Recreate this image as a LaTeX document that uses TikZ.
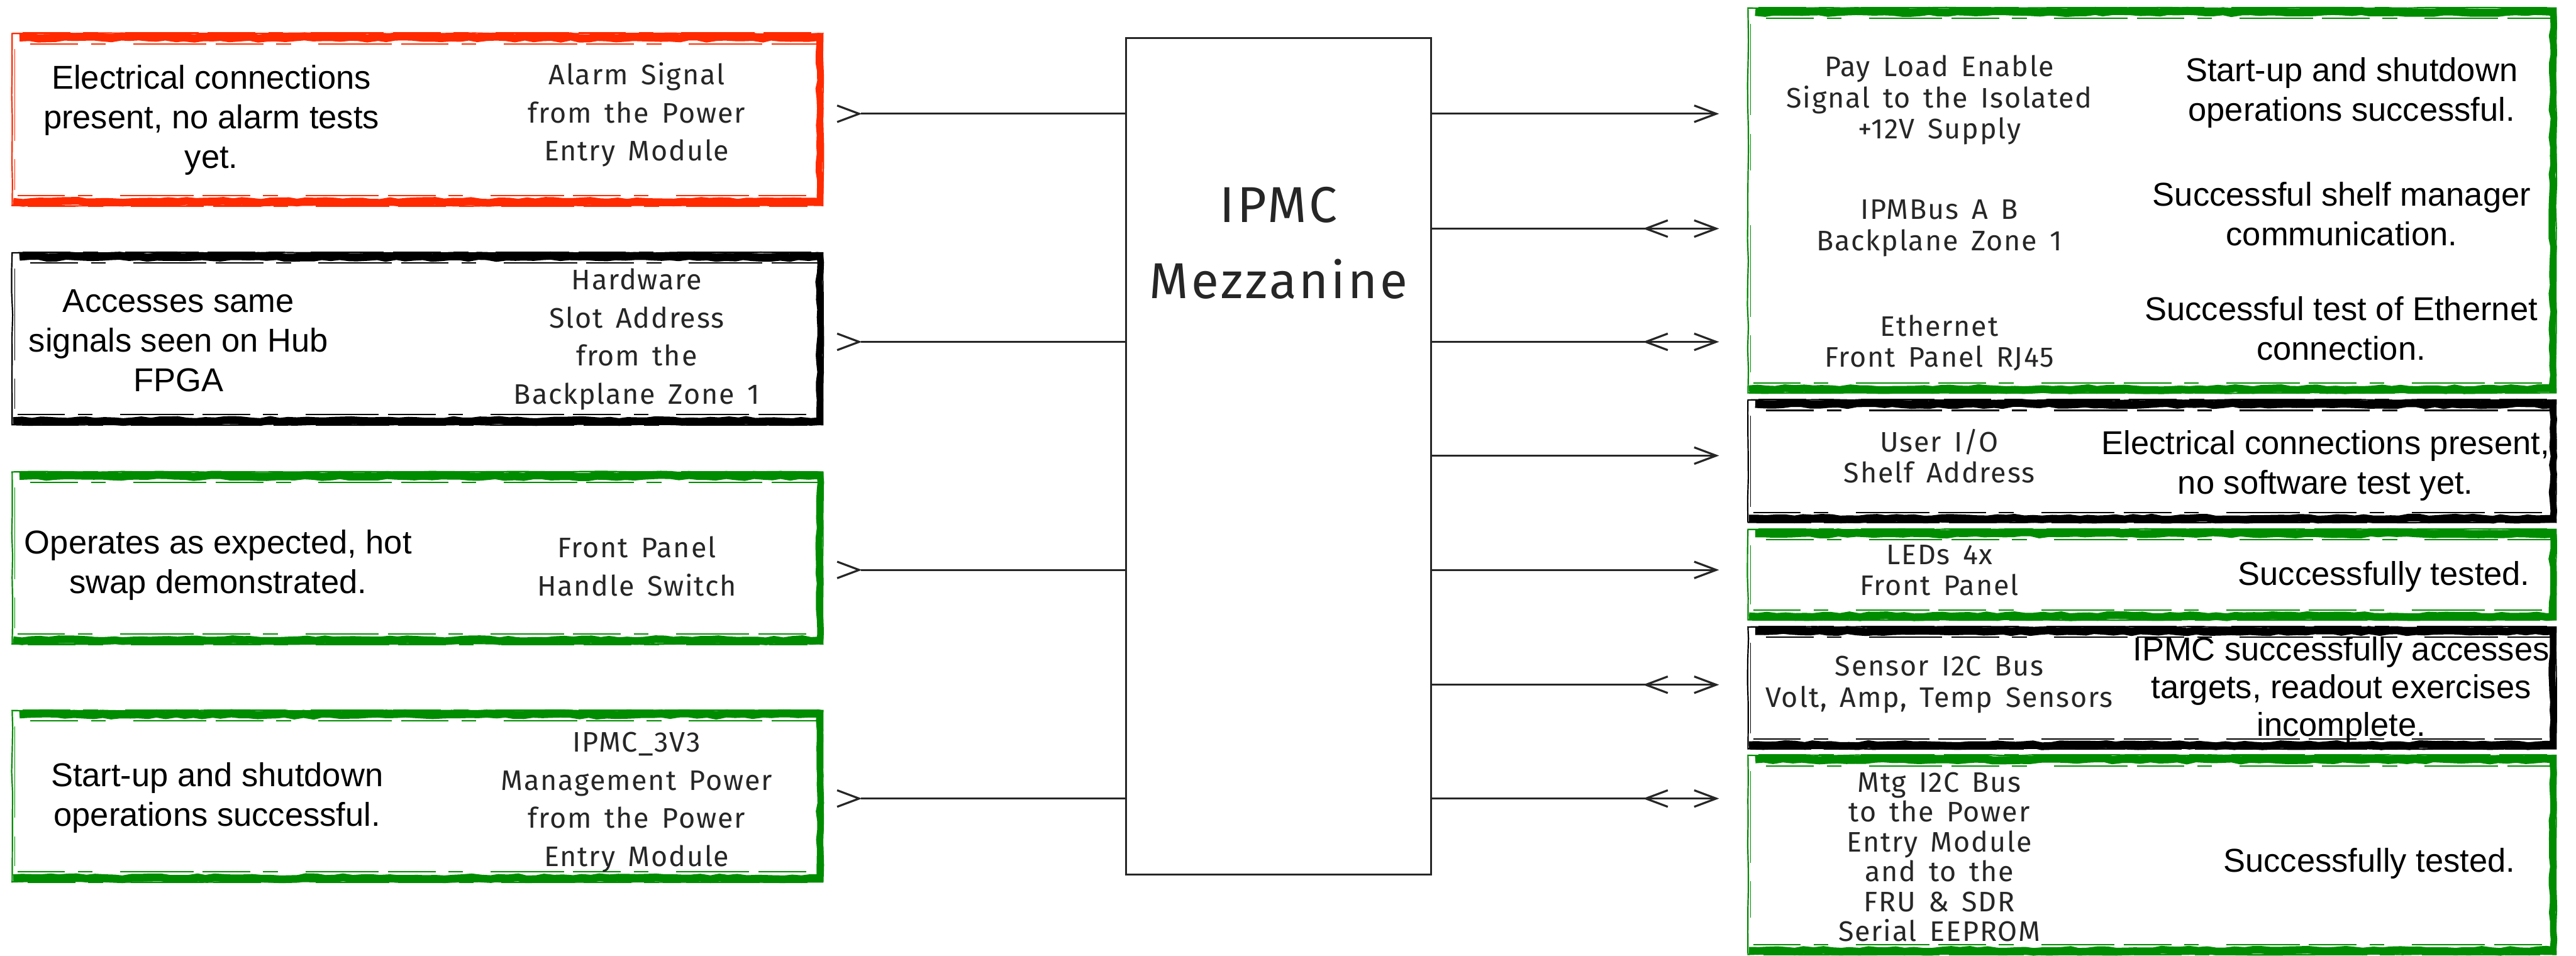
\documentclass[tikz,border=0pt]{standalone}
\usepackage{fontspec}
\setmainfont{Liberation Sans}
\newfontfamily\notefont{Liberation Sans}
\newfontfamily\cadfont{Fira Sans}[LetterSpace=4,WordSpace=1.5]
\newfontfamily\titlefont{Fira Sans}[LetterSpace=5]
\usetikzlibrary{arrows.meta,decorations.pathmorphing,decorations.markings}

\definecolor{okgreen}{RGB}{0,140,0}
\definecolor{warnred}{RGB}{255,42,0}

\tikzset{
  >={Straight Barb[length=12pt,width=9pt]},
  wire/.style={line width=1.1pt,draw=black!85},
  outwire/.style={wire,->},
  inwire/.style={wire,postaction={decorate,decoration={markings,
      mark=at position 0.5pt with {\arrow{>}}}}},
  bidir/.style={wire,->,postaction={decorate,decoration={markings,
      mark=at position -1.46cm with {\arrowreversed{>}}}}},
  panel/.style={draw=none,inner sep=0pt,minimum width=#1},
  panel/.default=15.52cm,
  note/.style={font=\notefont\fontsize{18}{21.6}\selectfont,align=center,inner sep=0pt},
  cadtext/.style={font=\cadfont\fontsize{15.4}{20.8}\selectfont,align=center,inner sep=0pt,text=black!85},
  cadtight/.style={cadtext,font=\cadfont\fontsize{15.4}{17}\selectfont},
  rough/.style={decorate,decoration={random steps,segment length=12pt,amplitude=0.3pt}},
  brushstroke/.style={decorate,decoration={random steps,segment length=5pt,amplitude=0.6pt}},
  fringe/.style={line width=0.7pt,dash pattern=on 26pt off 7pt on 8pt off 15pt on 40pt off 5pt}
}

% hand-brushed outline around a named panel node
\newcommand\sketchframe[2]{%
  \draw[#2,line width=0.75pt,rough]
    (#1.north west) -- (#1.north east) -- (#1.south east) -- (#1.south west) -- cycle;
  \draw[#2,line width=4.4pt,brushstroke]
    ([shift={(0.14,0.075)}]#1.north west) -- ([shift={(0,0.075)}]#1.north east);
  \draw[#2,line width=4.2pt,brushstroke]
    ([shift={(0.02,-0.07)}]#1.south west) -- ([shift={(0,-0.07)}]#1.south east);
  \draw[#2,line width=3.6pt,brushstroke]
    ([shift={(-0.06,0.02)}]#1.north east) -- ([shift={(-0.06,-0.02)}]#1.south east);
  \draw[#2,fringe] ([shift={(0.2,-0.01)}]#1.north west) -- ([shift={(-0.1,-0.01)}]#1.north east);
  \draw[#2,fringe] ([shift={(0.35,0.2)}]#1.north west) -- ([shift={(-0.1,0.2)}]#1.north east);
  \draw[#2,fringe] ([shift={(0.1,-0.19)}]#1.south west) -- ([shift={(-0.2,-0.19)}]#1.south east);
  \draw[#2,fringe] ([shift={(0.3,0.01)}]#1.south west) -- ([shift={(-0.3,0.01)}]#1.south east);
  \draw[#2,line width=0.5pt,dash pattern=on 50pt off 10pt on 20pt off 30pt]
    ([shift={(0.05,0.3)}]#1.north west) -- ([shift={(0.05,-0.3)}]#1.south west);
}

\begin{document}
\begin{tikzpicture}[x=1cm,y=-1cm]
\pgfmathsetseed{7}
\fill[white] (0,0) rectangle (49.36,18.31);
\useasboundingbox (0,0) rectangle (49.36,18.31);

% ---------- left column ----------
\node[panel,minimum height=3.28cm] (fL1) at (8.00,2.29) {};
\node[panel,minimum height=3.28cm] (fL2) at (8.00,6.49) {};
\node[panel,minimum height=3.28cm] (fL3) at (8.00,10.69) {};
\node[panel,minimum height=3.27cm] (fL4) at (8.00,15.255) {};
\sketchframe{fL1}{warnred}
\sketchframe{fL2}{black}
\sketchframe{fL3}{okgreen}
\sketchframe{fL4}{okgreen}

\node[note] (nL1) at (4.05,2.30) {Electrical connections\\present, no alarm tests\\yet.};
\node[note] (nL2) at (3.42,6.53) {Accesses same\\signals seen on Hub\\FPGA};
\node[note] (nL3) at (4.18,10.83) {Operates as expected, hot\\swap demonstrated.};
\node[note] (nL4) at (4.16,15.28) {Start-up and shutdown\\operations successful.};

\node[cadtext] (sL1) at (12.20,2.20) {Alarm Signal\\from the Power\\Entry Module};
\node[cadtext] (sL2) at (12.20,6.50) {Hardware\\Slot Address\\from the\\Backplane Zone 1};
\node[cadtext] (sL3) at (12.20,10.85) {Front Panel\\Handle Switch};
\node[cadtext] (sL4) at (12.20,15.37) {IPMC\_3V3\\Management Power\\from the Power\\Entry Module};

% ---------- IPMC block ----------
\node[draw=black!85,line width=0.9pt,inner sep=0pt,minimum width=5.84cm,minimum height=16.03cm]
  (ipmc) at (24.50,8.745) {};
\node[font=\titlefont\fontsize{27.5}{41.5}\selectfont,align=center,inner sep=0pt,text=black!85]
  (ipmcname) at (24.50,4.66) {IPMC\\Mezzanine};

% ---------- right column ----------
\node[panel=15.47cm,minimum height=7.36cm] (fR1) at (41.235,3.84) {};
\node[panel=15.47cm,minimum height=2.33cm] (fR2) at (41.235,8.835) {};
\node[panel=15.47cm,minimum height=1.72cm] (fR3) at (41.235,11.01) {};
\node[panel=15.47cm,minimum height=2.32cm] (fR4) at (41.235,13.18) {};
\node[panel=15.47cm,minimum height=3.80cm] (fR5) at (41.235,16.38) {};
\sketchframe{fR1}{okgreen}
\sketchframe{fR2}{black}
\sketchframe{fR3}{okgreen}
\sketchframe{fR4}{black}
\sketchframe{fR5}{okgreen}

\node[cadtight] (sR1) at (37.16,1.92) {Pay Load Enable\\Signal to the Isolated\\+12V Supply};
\node[cadtight] (sR2) at (37.16,4.37) {IPMBus A B\\Backplane Zone 1};
\node[cadtight] (sR3) at (37.16,6.57) {Ethernet\\Front Panel RJ45};
\node[cadtight] (sR4) at (37.16,8.74) {User I/O\\Shelf Address};
\node[cadtight] (sR5) at (37.16,10.93) {LEDs 4x\\Front Panel};
\node[cadtight] (sR6) at (37.16,13.12) {Sensor I2C Bus\\Volt, Amp, Temp Sensors};
\node[cadtight,font=\cadfont\fontsize{15.4}{16.3}\selectfont] (sR7) at (37.16,16.42) {Mtg I2C Bus\\to the Power\\Entry Module\\and to the\\FRU \& SDR\\Serial EEPROM};

\node[note] (nR1) at (45.06,1.78) {Start-up and shutdown\\operations successful.};
\node[note] (nR2) at (44.87,4.10) {Successful shelf manager\\communication.};
\node[note] (nR3) at (44.86,6.29) {Successful test of Ethernet\\connection.};
\node[note] (nR4) at (44.56,8.92) {Electrical connections present,\\no software test yet.};
\node[note] (nR5) at (45.68,11.05) {Successfully tested.};
\node[note,font=\notefont\fontsize{18}{20.5}\selectfont] (nR6) at (44.86,13.22) {IPMC successfully accesses\\targets, readout exercises\\incomplete.};
\node[note] (nR7) at (45.40,16.55) {Successfully tested.};

% ---------- connectors ----------
\coordinate (inA) at (16.50,2.18);
\coordinate (inB) at (16.50,6.55);
\coordinate (inC) at (16.50,10.92);
\coordinate (inD) at (16.50,15.30);
\foreach \c in {inA,inB,inC,inD}
  \draw[inwire] (\c) -- (\c -| ipmc.west);

\coordinate (outA) at (32.94,2.18);
\coordinate (outB) at (32.94,4.38);
\coordinate (outC) at (32.94,6.55);
\coordinate (outD) at (32.94,8.73);
\coordinate (outE) at (32.94,10.92);
\coordinate (outF) at (32.94,13.12);
\coordinate (outG) at (32.94,15.30);
\foreach \c in {outA,outD,outE}
  \draw[outwire] (ipmc.east |- \c) -- (\c);
\foreach \c in {outB,outC,outF,outG}
  \draw[bidir] (ipmc.east |- \c) -- (\c);
\end{tikzpicture}
\end{document}
